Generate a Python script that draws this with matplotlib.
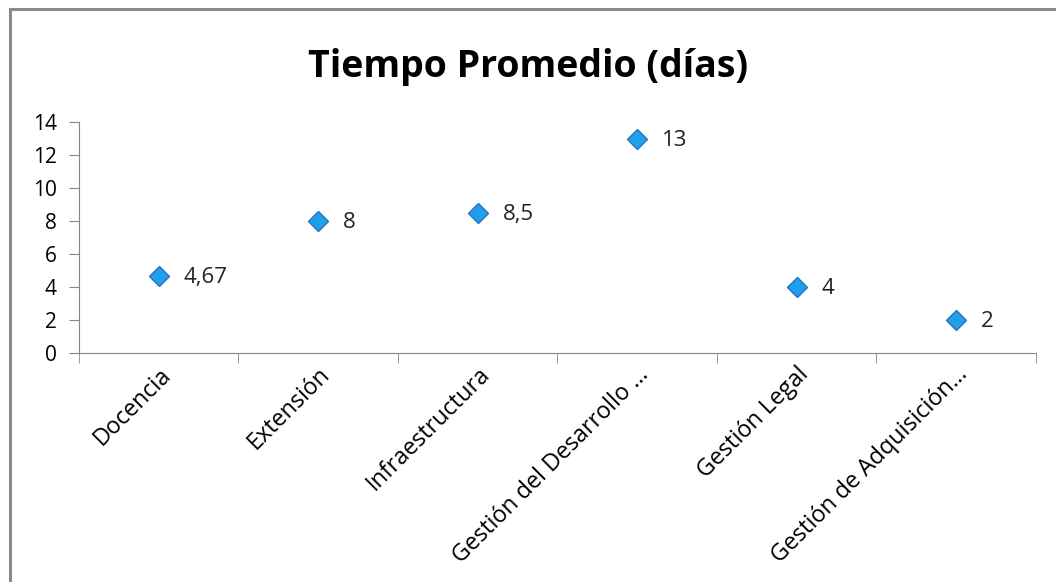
import numpy as np
import matplotlib.pyplot as plt
from matplotlib.lines import Line2D

categorias = ['Docencia', 'Extensión', 'Infraestructura', 'Gestión del Desarrollo …',
              'Gestión Legal', 'Gestión de Adquisición…']
dias = [4.67, 8, 8.5, 13, 4, 2]
etiquetas = ['4,67', '8', '8,5', '13', '4', '2']

plt.rcParams['font.family'] = ['Open Sans', 'DejaVu Sans']

fig = plt.figure(figsize=(10.56, 5.82), dpi=100)
ax = fig.add_axes([0.0748, 0.3935, 0.9062, 0.3965])

x = np.arange(len(categorias))
ax.plot(x, dias, linestyle='none', marker='D', markersize=10,
        markerfacecolor='#1fa0ea', markeredgecolor='#2a70c0', markeredgewidth=1)
for xi, yi, t in zip(x, dias, etiquetas):
    ax.annotate(t, (xi, yi), xytext=(18, -1), textcoords='offset points',
                va='center', ha='left', fontsize=16, color='#222222')

ax.set_xlim(-0.5, len(categorias) - 0.5)
ax.set_ylim(0, 14)
ax.set_yticks(range(0, 15, 2))
ax.tick_params(axis='y', direction='out', length=7, color='#868686', labelsize=15, pad=9)

ax.set_xticks(x)
ax.set_xticklabels(categorias, rotation=45, ha='right', rotation_mode='anchor', fontsize=16.8)
ax.tick_params(axis='x', which='major', length=0, pad=7)
ax.set_xticks(np.arange(-0.5, len(categorias)), minor=True)
ax.tick_params(axis='x', which='minor', direction='out', length=7, color='#868686')

for s in ['top', 'right']:
    ax.spines[s].set_visible(False)
for s in ['left', 'bottom']:
    ax.spines[s].set_color('#868686')

fig.text(0.5, 0.885, 'Tiempo Promedio (días)', ha='center', va='center',
         fontsize=27, fontweight='bold')

# marco del gráfico (solo bordes visibles)
fig.add_artist(Line2D([0.0095, 0.0095], [0, 0.9845], transform=fig.transFigure,
                      color='#8a8a8a', linewidth=2.2))
fig.add_artist(Line2D([0.0095, 1], [0.9845, 0.9845], transform=fig.transFigure,
                      color='#8a8a8a', linewidth=2.2))

fig.savefig('out.png', dpi=100)
